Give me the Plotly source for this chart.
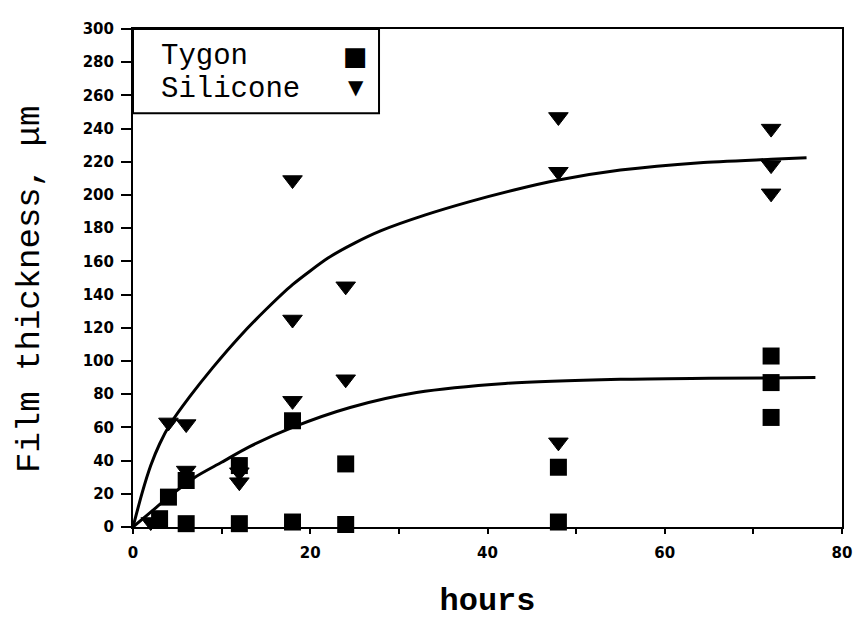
import plotly.graph_objects as go

# ---- data ----
tygon_hours = [3, 4, 6, 6, 12, 12, 18, 18, 24, 24, 48, 48, 72, 72, 72]
tygon_thick = [5, 18, 28, 2, 37, 2, 64, 3, 38, 1.5, 36, 3, 103, 87, 66]

silicone_hours = [2, 4, 6, 6, 12, 12, 18, 18, 18, 24, 24, 48, 48, 48, 72, 72, 72]
silicone_thick = [3, 63, 62, 34, 33, 27, 209, 125, 76, 145, 89, 247, 214, 51, 240, 218, 201]

silicone_fit_hours = [0, 1, 2, 3, 4.2, 6.4, 9, 12, 15, 18, 22, 25, 28, 33, 38, 43, 48, 55, 64, 72, 76]
silicone_fit_thick = [0, 20, 37, 50, 62, 78.5, 96, 114.5, 131, 146, 162, 171, 178.5, 188, 196, 203,
                      209, 215, 219.5, 221.5, 222.5]

tygon_fit_hours = [0, 2, 4, 7, 10, 13, 18, 24.5, 32, 42, 55, 65, 77]
tygon_fit_thick = [0, 9, 18, 30, 39, 48, 60, 72, 81, 86.5, 89, 89.6, 90]

x_ticks = [0, 20, 40, 60, 80]
y_ticks = list(range(0, 301, 20))

MONO = "Liberation Mono, Courier New, monospace"
TICKF = "DejaVu Sans, Arial, sans-serif"

fig = go.Figure()

fig.add_trace(go.Scatter(x=silicone_fit_hours, y=silicone_fit_thick, mode="lines",
                         line=dict(color="black", width=3, shape="spline", smoothing=0.6),
                         showlegend=False, hoverinfo="skip"))
fig.add_trace(go.Scatter(x=tygon_fit_hours, y=tygon_fit_thick, mode="lines",
                         line=dict(color="black", width=3, shape="spline", smoothing=0.8),
                         showlegend=False, hoverinfo="skip"))
fig.add_trace(go.Scatter(x=tygon_hours, y=tygon_thick, mode="markers", name="Tygon",
                         marker=dict(symbol="square", size=17, color="black"),
                         cliponaxis=False, showlegend=False))
fig.add_trace(go.Scatter(x=silicone_hours, y=silicone_thick, mode="markers", name="Silicone",
                         marker=dict(symbol="triangle-down", size=17, color="black",
                                     line=dict(color="black", width=1)),
                         cliponaxis=False, showlegend=False))

fig.update_layout(
    width=866, height=635,
    margin=dict(l=133, r=24, t=29, b=108),
    paper_bgcolor="white", plot_bgcolor="white",
    showlegend=False,
    xaxis=dict(range=[0, 80], tickvals=x_ticks, ticktext=[str(v) for v in x_ticks],
               ticks="outside", ticklen=5, tickwidth=2, tickcolor="black",
               minor=dict(dtick=10, ticks="outside", ticklen=5, tickwidth=2, tickcolor="black"),
               showline=True, linewidth=2, linecolor="black", mirror=True,
               showgrid=False, zeroline=False, ticklabelstandoff=6,
               tickfont=dict(family=TICKF, size=15, color="black", weight="bold"),
               title=dict(text="hours", standoff=27,
                          font=dict(family=MONO, size=32, color="black", weight="bold"))),
    yaxis=dict(range=[0, 300], tickvals=y_ticks, ticktext=[str(v) for v in y_ticks],
               ticks="outside", ticklen=10, tickwidth=2, tickcolor="black",
               showline=True, linewidth=2, linecolor="black", mirror=True,
               showgrid=False, zeroline=False, ticklabelstandoff=4,
               tickfont=dict(family=TICKF, size=15, color="black", weight="bold")),
)

# y-axis title
fig.add_annotation(xref="paper", yref="paper", x=-0.1453, y=0.478,
                   text="Film thickness, \u03bcm", textangle=-90, showarrow=False,
                   xanchor="center", yanchor="middle",
                   font=dict(family=MONO, size=34, color="black"))

# legend box (text left, symbol right as in the reference)
fig.add_shape(type="rect", xref="paper", yref="paper", x0=0, x1=0.347, y0=0.831, y1=1.0,
              line=dict(color="black", width=2), fillcolor="white", layer="above")
fig.add_annotation(xref="paper", yref="paper", x=0.036, y=0.9438, text="Tygon",
                   showarrow=False, xanchor="left", yanchor="middle",
                   font=dict(family=MONO, size=29, color="black"))
fig.add_annotation(xref="paper", yref="paper", x=0.036, y=0.8795, text="Silicone",
                   showarrow=False, xanchor="left", yanchor="middle",
                   font=dict(family=MONO, size=29, color="black"))
fig.add_annotation(xref="paper", yref="paper", x=0.314, y=0.9458, text="\u25a0",
                   showarrow=False, xanchor="center", yanchor="middle",
                   font=dict(family="DejaVu Sans", size=26, color="black"))
fig.add_annotation(xref="paper", yref="paper", x=0.314, y=0.8835, text="\u25bc",
                   showarrow=False, xanchor="center", yanchor="middle",
                   font=dict(family="DejaVu Sans", size=20, color="black"))

fig.write_html("out.html")
